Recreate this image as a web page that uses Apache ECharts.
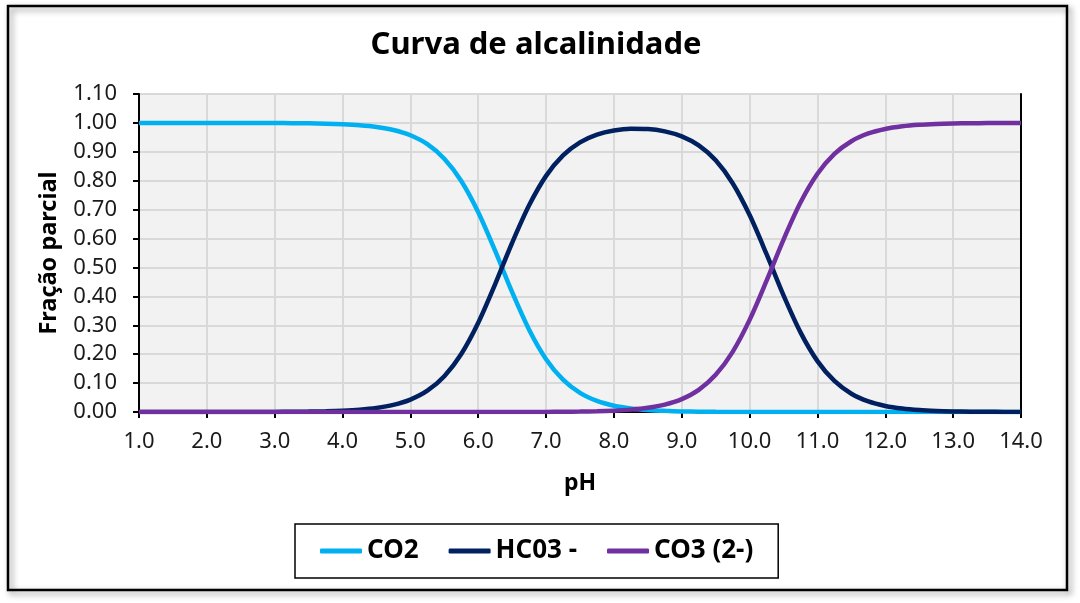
<!DOCTYPE html>
<html>
<head>
<meta charset="utf-8">
<script src="https://cdn.jsdelivr.net/npm/echarts@6/dist/echarts.min.js"></script>
<style>
html,body{margin:0;padding:0;background:#fff;}
#chart{width:1080px;height:603px;}
</style>
</head>
<body>
<div id="chart"></div>
<script>
// pH values
const pH = [1.0,1.25,1.5,1.75,2.0,2.25,2.5,2.75,3.0,3.25,3.5,3.75,4.0,4.25,4.5,4.75,5.0,5.25,5.5,5.75,6.0,6.25,6.5,6.75,7.0,7.25,7.5,7.75,8.0,8.25,8.5,8.75,9.0,9.25,9.5,9.75,10.0,10.25,10.5,10.75,11.0,11.25,11.5,11.75,12.0,12.25,12.5,12.75,13.0,13.25,13.5,13.75,14.0];
const co2 = [1.0000,1.0000,1.0000,1.0000,1.0000,0.9999,0.9999,0.9998,0.9996,0.9992,0.9986,0.9975,0.9955,0.9921,0.9861,0.9755,0.9572,0.9264,0.8762,0.7992,0.6912,0.5573,0.4145,0.2848,0.1828,0.1117,0.0660,0.0382,0.0218,0.0123,0.0069,0.0039,0.0021,0.0012,0.0006,0.0003,0.0002,0.0001,0.0000,0.0000,0.0000,0.0000,0.0000,0.0000,0.0000,0.0000,0.0000,0.0000,0.0000,0.0000,0.0000,0.0000,0.0000];
const hco3 = [0.0000,0.0000,0.0000,0.0000,0.0000,0.0001,0.0001,0.0002,0.0004,0.0008,0.0014,0.0025,0.0045,0.0079,0.0139,0.0245,0.0428,0.0736,0.1238,0.2008,0.3088,0.4427,0.5855,0.7150,0.8168,0.8876,0.9326,0.9593,0.9736,0.9795,0.9786,0.9706,0.9533,0.9221,0.8707,0.7914,0.6812,0.5459,0.4034,0.2755,0.1761,0.1073,0.0633,0.0366,0.0209,0.0118,0.0066,0.0037,0.0021,0.0012,0.0007,0.0004,0.0002];
const co3 = [0.0000,0.0000,0.0000,0.0000,0.0000,0.0000,0.0000,0.0000,0.0000,0.0000,0.0000,0.0000,0.0000,0.0000,0.0000,0.0000,0.0000,0.0000,0.0000,0.0000,0.0000,0.0000,0.0000,0.0002,0.0004,0.0007,0.0014,0.0025,0.0046,0.0082,0.0145,0.0255,0.0446,0.0767,0.1287,0.2082,0.3186,0.4541,0.5966,0.7245,0.8239,0.8927,0.9367,0.9634,0.9791,0.9882,0.9934,0.9963,0.9979,0.9988,0.9993,0.9996,0.9998];
const seriesNames = ['CO2','HC03 -','CO3 (2-)'];
const titleText = 'Curva de alcalinidade';
const xName = 'pH';
const yName = 'Fração parcial';

const pair = (ys) => pH.map((x,i)=>[x, ys[i]]);
const FONT = 'Noto Sans';
const chart = echarts.init(document.getElementById('chart'));
chart.setOption({
  backgroundColor:'#ffffff',
  animation:false,
  title:{text:titleText,left:531,textAlign:'center',top:25,
    textStyle:{fontFamily:FONT,fontWeight:'bold',fontSize:31,color:'#000'}},
  graphic:[{type:'rect',shape:{x:8,y:6,width:1059,height:584},
    style:{fill:'none',stroke:'#000',lineWidth:2.5,shadowBlur:6,shadowColor:'rgba(0,0,0,0.45)',shadowOffsetX:3,shadowOffsetY:3},z:-1}],
  legend:{left:295,top:524,orient:'horizontal',
    data:seriesNames,
    borderColor:'#000',borderWidth:1.5,padding:[14,25,14,25],
    itemWidth:42,itemHeight:5,itemGap:30,icon:'roundRect',
    textStyle:{fontFamily:FONT,fontWeight:'bold',fontSize:26,color:'#000'}},
  grid:{left:139,right:59,top:94,bottom:191,show:true,backgroundColor:'#f2f2f2',borderWidth:0},
  xAxis:{type:'value',min:1,max:14,interval:1,
    name:xName,nameLocation:'middle',nameGap:60,
    nameTextStyle:{fontFamily:FONT,fontWeight:'bold',fontSize:23,color:'#000'},
    axisLine:{show:true,onZero:false,lineStyle:{color:'#000',width:2}},
    axisTick:{show:true,length:6,lineStyle:{color:'#000',width:2}},
    axisLabel:{fontFamily:FONT,fontSize:22,color:'#1a1a1a',margin:19,formatter:v=>v.toFixed(1)},
    splitLine:{show:true,lineStyle:{color:'#d9d9d9',width:2}}},
  yAxis:[{type:'value',min:0,max:1.1,interval:0.1,
    name:yName,nameLocation:'middle',nameGap:78,nameRotate:90,
    nameTextStyle:{fontFamily:FONT,fontWeight:'bold',fontSize:23.5,color:'#000'},
    axisLine:{show:true,lineStyle:{color:'#000',width:2}},
    axisTick:{show:true,length:6,lineStyle:{color:'#000',width:2}},
    axisLabel:{fontFamily:FONT,fontSize:22,color:'#1a1a1a',margin:22,formatter:v=>v.toFixed(2)},
    splitLine:{show:true,lineStyle:{color:'#d9d9d9',width:2}}},
   {type:'value',position:'right',min:0,max:1.1,
    axisLine:{show:true,lineStyle:{color:'#000',width:2}},
    axisTick:{show:false},axisLabel:{show:false},splitLine:{show:false}}],
  series:[
    {name:seriesNames[0],type:'line',data:pair(co2),showSymbol:false,symbol:'none',smooth:0.3,
     lineStyle:{color:'#00b0f0',width:4.5},itemStyle:{color:'#00b0f0'}},
    {name:seriesNames[1],type:'line',data:pair(hco3),showSymbol:false,symbol:'none',smooth:0.3,
     lineStyle:{color:'#002060',width:4.5},itemStyle:{color:'#002060'}},
    {name:seriesNames[2],type:'line',data:pair(co3),showSymbol:false,symbol:'none',smooth:0.3,
     lineStyle:{color:'#7030a0',width:4.5},itemStyle:{color:'#7030a0'}}
  ]
});
</script>
</body>
</html>
